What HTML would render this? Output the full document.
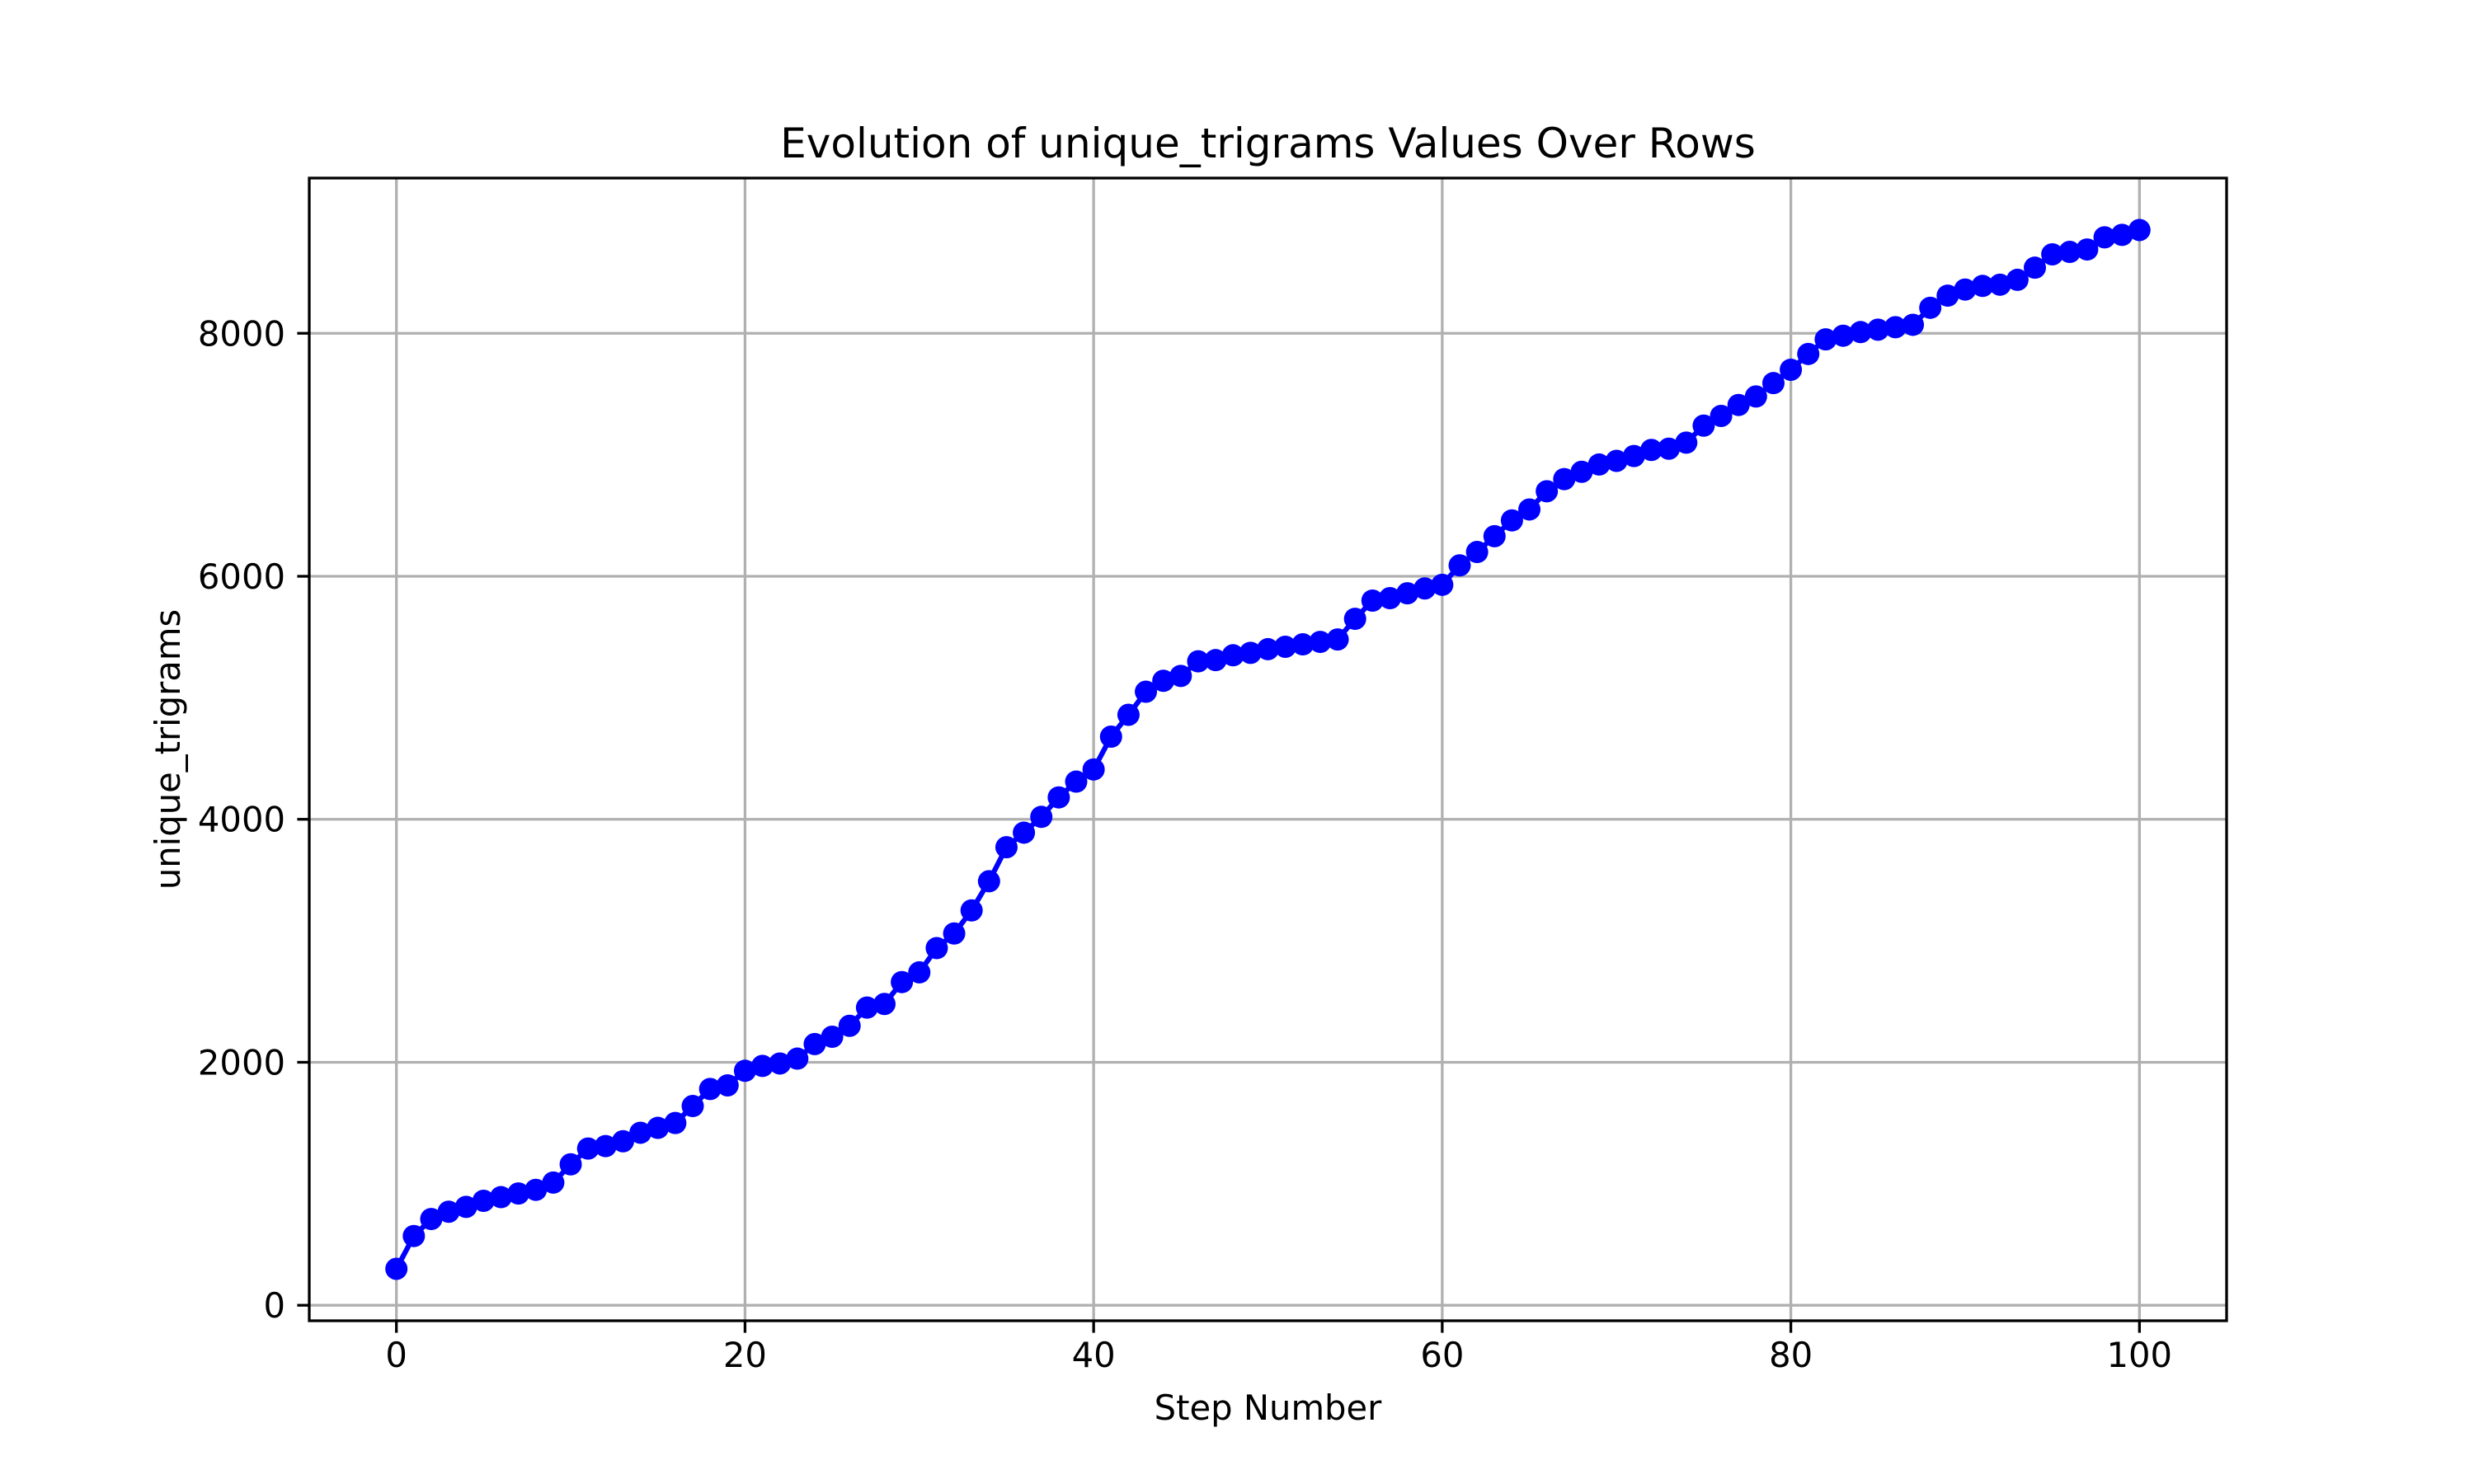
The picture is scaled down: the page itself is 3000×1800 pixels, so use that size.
<!DOCTYPE html>
<html><head><meta charset="utf-8"><style>body{margin:0;background:#fff}svg{display:block}text{font-family:"DejaVu Sans","Liberation Sans",sans-serif;fill:#000}</style></head>
<body>
<svg id="chart" width="3000" height="1800" xmlns="http://www.w3.org/2000/svg">
<rect width="3000" height="1800" fill="#fff"/>
<g id="grid"></g><g id="axes"></g><g id="series"></g>
<text x="1537.5" y="191" font-size="50" text-anchor="middle">Evolution of unique_trigrams Values Over Rows</text>
<text x="1537.5" y="1722" font-size="41.7" text-anchor="middle">Step Number</text>
<text transform="translate(218,909) rotate(-90)" font-size="41.7" text-anchor="middle">unique_trigrams</text>
</svg>
<script>
const steps = Array.from({length:101},(_, i)=>i);
const values = [300,570,710,770,810,860,890,920,950,1010,1160,1290,1310,1350,1420,1460,1500,1640,1780,1810,1930,1970,1990,2030,2150,2210,2300,2450,2480,2660,2740,2940,3060,3250,3490,3770,3890,4020,4180,4310,4410,4680,4860,5050,5140,5180,5300,5310,5350,5370,5400,5420,5440,5460,5480,5650,5800,5820,5860,5900,5930,6090,6200,6330,6460,6550,6700,6800,6860,6920,6950,6990,7040,7050,7100,7240,7320,7410,7480,7590,7700,7830,7950,7980,8010,8030,8050,8070,8210,8310,8360,8390,8400,8440,8540,8650,8670,8690,8790,8810,8850];
const xTicks = [0,20,40,60,80,100];
const yTicks = [0,2000,4000,6000,8000];

const L=375,R=2700,T=216,B=1602;
const xmin=-5,xmax=105;
const vmin=Math.min(...values),vmax=Math.max(...values),pad=(vmax-vmin)*0.05;
const ymin=vmin-pad,ymax=vmax+pad;
const sx=v=>L+(v-xmin)/(xmax-xmin)*(R-L);
const sy=v=>B-(v-ymin)/(ymax-ymin)*(B-T);
const NS='http://www.w3.org/2000/svg';
function mk(tag,attrs,parent){const e=document.createElementNS(NS,tag);for(const k in attrs)e.setAttribute(k,attrs[k]);parent.appendChild(e);return e;}
const grid=document.getElementById('grid'),axes=document.getElementById('axes'),series=document.getElementById('series');
xTicks.forEach(t=>{
  const x=sx(t);
  const g=mk('line',{x1:x,x2:x,y1:T,y2:B,stroke:'#b0b0b0','stroke-width':3.3},grid);
  
  
  const tk=mk('line',{x1:x,x2:x,y1:B,y2:B+14.6,stroke:'#000','stroke-width':3.3},axes);
  
  
  const lb=mk('text',{x:x,y:B+56,'font-size':41.7,'text-anchor':'middle'},axes);
  lb.textContent=t;
  
  
});
yTicks.forEach(t=>{
  const y=sy(t);
  const g=mk('line',{x1:L,x2:R,y1:y,y2:y,stroke:'#b0b0b0','stroke-width':3.3},grid);
  
  
  const tk=mk('line',{x1:L-14.6,x2:L,y1:y,y2:y,stroke:'#000','stroke-width':3.3},axes);
  
  
  const lb=mk('text',{x:L-29,y:y+15,'font-size':41.7,'text-anchor':'end'},axes);
  lb.textContent=t;
  
  
});
const frame=mk('rect',{x:L,y:T,width:R-L,height:B-T,fill:'none',stroke:'#000','stroke-width':3.3},axes);


const line=mk('polyline',{points:steps.map((s,i)=>sx(s)+','+sy(values[i])).join(' '),fill:'none',stroke:'#0000ff','stroke-width':6.25,'stroke-linejoin':'round'},series);


steps.forEach((s,i)=>{
  const c=mk('circle',{cx:sx(s),cy:sy(values[i]),r:13.5,fill:'#0000ff'},series);
  
  
});
</script>
</body></html>
